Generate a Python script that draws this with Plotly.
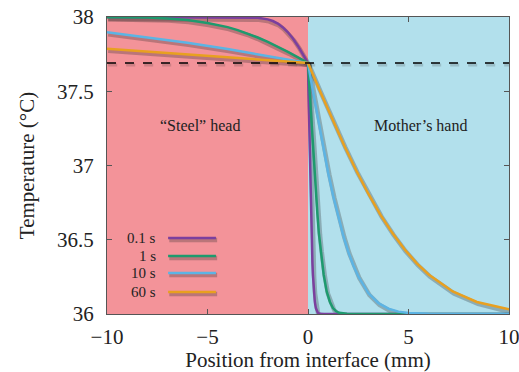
import plotly.graph_objects as go

# ---- data ----
interface_temp = 37.69
x_range = [-10, 10]
y_range = [36, 38]
labels = ["0.1 s", "1 s", "10 s", "60 s"]
colors = ["#7b3f9e", "#1e9a6e", "#5cb4e4", "#e8a020"]

x_01 = [-10, -4, -3, -2.5, -2, -1.75, -1.5, -1.25, -1.0, -0.75, -0.5, -0.25, 0,
        0.025, 0.05, 0.075, 0.1, 0.125, 0.15, 0.17, 0.2, 0.22, 0.245, 0.29, 0.34,
        0.39, 0.44, 0.49, 0.6, 0.8, 10]
y_01 = [38.0, 38.0, 37.999, 37.995, 37.984, 37.973, 37.956, 37.930, 37.897, 37.855,
        37.805, 37.749, 37.69,
        37.50, 37.314, 37.135, 36.966, 36.81, 36.669, 36.545, 36.436, 36.343, 36.266,
        36.152, 36.081, 36.040, 36.018, 36.008, 36.001, 36.0, 36.0]

x_1 = [-10, -9, -8, -7, -6, -5, -4, -3.5, -3, -2.5, -2, -1.5, -1, -0.5, 0,
       0.08, 0.16, 0.24, 0.31, 0.39, 0.47, 0.54, 0.62, 0.70, 0.78, 0.93, 1.09,
       1.24, 1.40, 1.55, 1.94, 2.5, 10]
y_1 = [37.999, 37.998, 37.996, 37.990, 37.980, 37.960, 37.932, 37.912, 37.889,
       37.862, 37.832, 37.800, 37.765, 37.728, 37.69,
       37.50, 37.314, 37.135, 36.966, 36.81, 36.669, 36.545, 36.436, 36.343, 36.266,
       36.152, 36.081, 36.040, 36.018, 36.008, 36.001, 36.0, 36.0]

x_10 = [-10, -8, -6, -4, -2, -1, 0, 0.25, 0.5, 0.75, 1.0, 1.25, 1.5, 1.75, 2.0,
        2.25, 2.5, 3.0, 3.5, 4.0, 4.5, 5.0, 6.0, 10]
y_10 = [37.897, 37.864, 37.826, 37.784, 37.738, 37.714, 37.69, 37.496, 37.306,
        37.125, 36.953, 36.796, 36.654, 36.529, 36.420, 36.328, 36.254, 36.141,
        36.074, 36.036, 36.016, 36.007, 36.001, 36.0]

x_60 = [-10, -8, -6, -4, -2, 0, 0.6, 1.2, 1.8, 2.4, 3.0, 3.6, 4.2, 4.8, 5.4, 6.0,
        7.2, 8.4, 9.6, 10]
y_60 = [37.786, 37.767, 37.748, 37.729, 37.710, 37.69, 37.50, 37.314, 37.135,
        36.966, 36.81, 36.669, 36.545, 36.436, 36.343, 36.266, 36.152, 36.081,
        36.040, 36.031]

series_x = [x_01, x_1, x_10, x_60]
series_y = [y_01, y_1, y_10, y_60]

FONT = "Liberation Serif"
SHADOW = "rgba(40,40,40,0.28)"
W, H = 519, 372
ML, MR, MT, MB = 107, 10, 17, 58
px_per_x = (W - ML - MR) / (x_range[1] - x_range[0])
px_per_y = (H - MT - MB) / (y_range[1] - y_range[0])
sh_dx, sh_dy = 1.2, 2.0  # shadow offset in pixels (right, down)

fig = go.Figure()

# regions
fig.add_shape(type="rect", x0=x_range[0], x1=0, y0=y_range[0], y1=y_range[1],
              xref="x", yref="y", fillcolor="#f39399", line_width=0, layer="below")
fig.add_shape(type="rect", x0=0, x1=x_range[1], y0=y_range[0], y1=y_range[1],
              xref="x", yref="y", fillcolor="#b2e0ec", line_width=0, layer="below")

# shadows (drawn on an offset overlay axis pair)
for xs, ys in zip(series_x, series_y):
    fig.add_trace(go.Scatter(x=xs, y=ys, mode="lines", showlegend=False,
                             xaxis="x2", yaxis="y2", hoverinfo="skip",
                             line=dict(color=SHADOW, width=4.5)))
fig.add_trace(go.Scatter(x=x_range, y=[interface_temp, interface_temp], mode="lines",
                         showlegend=False, xaxis="x2", yaxis="y2", hoverinfo="skip",
                         line=dict(color="rgba(40,40,40,0.18)", width=3, dash="dash")))

# curves
for xs, ys, c, lab in zip(series_x, series_y, colors, labels):
    fig.add_trace(go.Scatter(x=xs, y=ys, mode="lines", name=lab, showlegend=False,
                             xaxis="x3", yaxis="y3",
                             line=dict(color=c, width=2.5)))

# dashed interface temperature
fig.add_trace(go.Scatter(x=x_range, y=[interface_temp, interface_temp], mode="lines",
                         showlegend=False, xaxis="x3", yaxis="y3",
                         line=dict(color="black", width=1.6, dash="dash")))

# manual legend (text left, line right)
leg_y = [0.256, 0.195, 0.138, 0.074]
off_y = sh_dy / (H - MT - MB)
off_x = sh_dx / (W - ML - MR)
for i, (lab, c) in enumerate(zip(labels, colors)):
    fig.add_annotation(x=0.127, y=leg_y[i], xref="paper", yref="paper", text=lab,
                       showarrow=False, xanchor="right", yanchor="middle",
                       font=dict(family=FONT, size=15, color="#222"))
    fig.add_shape(type="line", x0=0.152 + off_x, x1=0.271 + off_x,
                  y0=leg_y[i] - off_y, y1=leg_y[i] - off_y,
                  xref="paper", yref="paper", line=dict(color=SHADOW, width=4.5))
    fig.add_shape(type="line", x0=0.152, x1=0.271, y0=leg_y[i], y1=leg_y[i],
                  xref="paper", yref="paper", line=dict(color=c, width=2.5))

fig.add_annotation(x=-5.35, y=37.27, text="“Steel” head", showarrow=False,
                   font=dict(family=FONT, size=16, color="#222"))
fig.add_annotation(x=5.62, y=37.27, text="Mother’s hand", showarrow=False,
                   font=dict(family=FONT, size=16, color="#222"))

axis_common = dict(showgrid=False, zeroline=False, showline=True, linecolor="#555",
                   linewidth=1, mirror="ticks", ticks="inside", ticklen=5,
                   automargin=False, ticklabeloverflow="allow",
                   tickcolor="#555", tickfont=dict(family=FONT, size=21, color="#222"))
fig.update_layout(
    xaxis=dict(range=x_range, tickvals=[-10, -5, 0, 5, 10],
               ticktext=["−10", "−5", "0", "5", "10"], ticklabelstandoff=4,
               title=dict(text="Position from interface (mm)", standoff=4,
                          font=dict(family=FONT, size=21, color="#222")),
               **axis_common),
    yaxis=dict(range=y_range, tickvals=[36, 36.5, 37, 37.5, 38],
               ticktext=["36", "36.5", "37", "37.5", "38"], ticklabelstandoff=8,
               title=dict(text="Temperature (°C)", standoff=16,
                          font=dict(family=FONT, size=21, color="#222")),
               **axis_common),
    xaxis2=dict(overlaying="x", visible=False, automargin=False,
                range=[x_range[0] - sh_dx / px_per_x, x_range[1] - sh_dx / px_per_x]),
    yaxis2=dict(overlaying="y", visible=False, automargin=False,
                range=[y_range[0] + sh_dy / px_per_y, y_range[1] + sh_dy / px_per_y]),
    xaxis3=dict(overlaying="x", visible=False, automargin=False, range=x_range),
    yaxis3=dict(overlaying="y", visible=False, automargin=False, range=y_range),
    width=W, height=H, margin=dict(l=ML, r=MR, t=MT, b=MB, autoexpand=False),
    paper_bgcolor="white", plot_bgcolor="white", font=dict(family=FONT),
)
fig.write_html("out.html", config={"displayModeBar": False},
               post_script="document.body.style.margin='0';document.body.style.padding='0';")
